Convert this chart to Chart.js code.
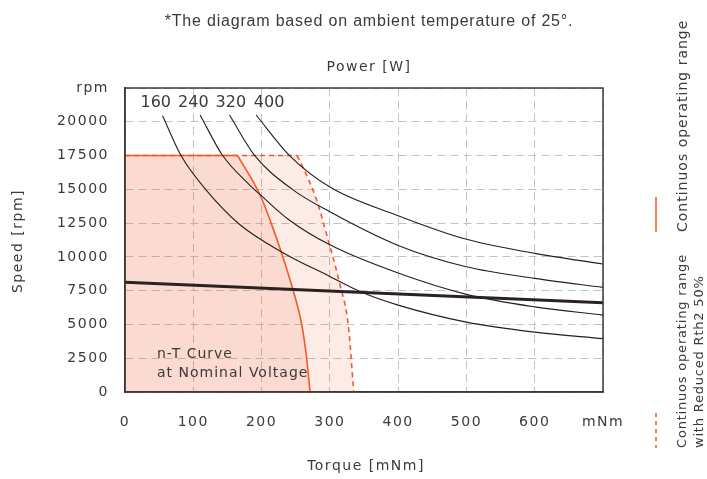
<!DOCTYPE html>
<html lang="en">
<head>
  <meta charset="UTF-8">
  <title>n-T diagram</title>
  <script src="https://cdn.jsdelivr.net/npm/chart.js"></script>
  <style>
    body { margin: 0; background: #fff; }
    canvas { display: block; }
  </style>
</head>
<body>
  <canvas id="grafico" width="707" height="479"></canvas>

  <script>
    // axis ticks
    const xTickValues = [0, 100, 200, 300, 400, 500, 600, 700];
    const xTickLabels = ['0', '100', '200', '300', '400', '500', '600', 'mNm'];
    const yTickValues = [0, 2500, 5000, 7500, 10000, 12500, 15000, 17500, 20000, 22500];
    const yTickLabels = ['0', '2500', '5000', '7500', '10000', '12500', '15000', '17500', '20000', 'rpm'];

    // power curves [W]
    const powerLabels = ['160', '240', '320', '400'];
    const p160Torque = [55, 82, 118, 168, 230, 300, 345, 400, 500, 600, 700];
    const p160Speed = [20450, 17500, 15000, 12400, 10350, 8550, 7420, 6430, 5170, 4430, 3950];
    const p240Torque = [110, 143, 183, 200, 240, 300, 400, 500, 600, 700];
    const p240Speed = [20500, 17500, 15300, 14510, 12750, 10890, 8800, 7225, 6300, 5690];
    const p320Torque = [153, 190, 245, 300, 400, 500, 600, 700];
    const p320Speed = [20500, 17500, 15000, 13340, 10850, 9270, 8410, 7745];
    const p400Torque = [192, 241, 300, 400, 500, 600, 700];
    const p400Speed = [20500, 17500, 15170, 13050, 11300, 10260, 9470];

    // n-T curve at nominal voltage
    const nomTorque = [0, 700];
    const nomSpeed = [8130, 6600];

    // continuous operating range
    const contTopTorque = [0, 165];
    const contTopSpeed = [17500, 17500];
    const contTorque = [165, 198, 214, 229, 244, 259, 266, 271];
    const contSpeed = [17500, 14560, 12500, 10320, 7900, 4950, 2500, 0];

    // continuous operating range, reduced Rth2 50%
    const redTopTorque = [0, 252];
    const redTopSpeed = [17500, 17500];
    const redTorque = [252, 260, 280, 294, 315, 327, 335];
    const redSpeed = [17500, 16700, 14300, 11900, 7900, 4950, 0];

    const laranja = '#f15a29';
    const texto = '#3a3a3a';
    const fonte = '"DejaVu Sans", sans-serif';

    function pontos(xs, ys) {
      return xs.map((x, i) => ({ x: x, y: ys[i] }));
    }

    function curva(xs, ys) {
      return {
        data: pontos(xs, ys),
        borderColor: '#231f20',
        borderWidth: 1.1,
        pointRadius: 0,
        fill: false,
        cubicInterpolationMode: 'monotone',
        order: 1
      };
    }

    const datasets = [
      { data: pontos(nomTorque, nomSpeed), borderColor: '#2b2220', borderWidth: 3, pointRadius: 0, fill: false, order: 0 },
      curva(p160Torque, p160Speed),
      curva(p240Torque, p240Speed),
      curva(p320Torque, p320Speed),
      curva(p400Torque, p400Speed),
      { data: pontos(contTopTorque, contTopSpeed), borderColor: laranja, borderWidth: 1.6, pointRadius: 0,
        fill: 'origin', backgroundColor: 'rgba(241,90,41,0.11)', order: 2 },
      { data: pontos(contTorque, contSpeed), borderColor: laranja, borderWidth: 1.6, pointRadius: 0,
        fill: 'origin', backgroundColor: 'rgba(241,90,41,0.11)', cubicInterpolationMode: 'monotone', order: 2 },
      { data: pontos(redTopTorque, redTopSpeed), borderColor: laranja, borderWidth: 1.6, borderDash: [5, 4], pointRadius: 0,
        fill: 'origin', backgroundColor: 'rgba(241,90,41,0.12)', order: 3 },
      { data: pontos(redTorque, redSpeed), borderColor: laranja, borderWidth: 1.6, borderDash: [5, 4], pointRadius: 0,
        fill: 'origin', backgroundColor: 'rgba(241,90,41,0.12)', cubicInterpolationMode: 'monotone', order: 3 }
    ];

    function textoRotacionado(ctx, txt, x, y, align) {
      ctx.save();
      ctx.translate(x, y);
      ctx.rotate(-Math.PI / 2);
      ctx.textAlign = align;
      ctx.textBaseline = 'middle';
      ctx.fillText(txt, 0, 0);
      ctx.restore();
    }

    const textos = {
      id: 'textos',
      beforeDraw(chart) {
        // fonte da referência é bem larga: espaçamento nas letras dos ticks
        chart.ctx.letterSpacing = '1.5px';
      },
      afterDraw(chart) {
        const ctx = chart.ctx;
        const a = chart.chartArea;
        const sx = chart.scales.x;
        const sy = chart.scales.y;
        ctx.save();

        // moldura
        ctx.strokeStyle = '#3a3a3a';
        ctx.lineWidth = 1.5;
        ctx.strokeRect(a.left, a.top, a.right - a.left, a.bottom - a.top);

        ctx.fillStyle = texto;
        ctx.textBaseline = 'middle';
        ctx.textAlign = 'center';
        ctx.letterSpacing = '0.8px';
        ctx.font = '16px "Liberation Sans", sans-serif';
        ctx.fillText('*The diagram based on ambient temperature of 25°.', 369, 22);

        ctx.letterSpacing = '1.5px';
        ctx.font = '14px ' + fonte;
        ctx.fillText('Power [W]', 369, 67);
        ctx.fillText('Torque [mNm]', 366, 466);
        textoRotacionado(ctx, 'Speed [rpm]', 18, 241, 'center');

        // rótulos das curvas de potência
        ctx.letterSpacing = '0px';
        ctx.font = '16px ' + fonte;
        const posLabel = [45, 100, 155, 211];
        powerLabels.forEach((l, i) => {
          ctx.fillText(l, sx.getPixelForValue(posLabel[i]), sy.getPixelForValue(21400));
        });

        ctx.letterSpacing = '1px';
        ctx.font = '14px ' + fonte;
        ctx.textAlign = 'left';
        ctx.fillText('n-T Curve', 157, 354);
        ctx.fillText('at Nominal Voltage', 157, 373);

        // legenda lateral
        textoRotacionado(ctx, 'Continuos operating range', 683, 232, 'left');
        ctx.letterSpacing = '0.8px';
        ctx.font = '13px ' + fonte;
        textoRotacionado(ctx, 'Continuos operating range', 683, 448, 'left');
        textoRotacionado(ctx, 'with Reduced Rth2 50%', 700, 448, 'left');

        ctx.strokeStyle = laranja;
        ctx.lineWidth = 1.5;
        ctx.beginPath();
        ctx.moveTo(656, 197);
        ctx.lineTo(656, 232);
        ctx.stroke();
        ctx.setLineDash([4, 4]);
        ctx.beginPath();
        ctx.moveTo(656, 413);
        ctx.lineTo(656, 448);
        ctx.stroke();

        ctx.restore();
      }
    };

    const ctx = document.getElementById('grafico').getContext('2d');
    new Chart(ctx, {
      type: 'line',
      data: { datasets: datasets },
      options: {
        responsive: false,
        animation: false,
        layout: { padding: { top: 88, right: 104, left: 0, bottom: 0 } },
        plugins: { legend: { display: false }, tooltip: { enabled: false } },
        scales: {
          x: {
            type: 'linear', min: 0, max: 700,
            afterBuildTicks: s => { s.ticks = xTickValues.map(v => ({ value: v })); },
            afterFit: s => { s.height = 87; },
            ticks: {
              autoSkip: false, maxRotation: 0, padding: 22, color: texto,
              font: { family: fonte, size: 14 },
              callback: (v, i) => xTickLabels[i]
            },
            grid: { color: '#c2c2c2', lineWidth: 1, drawTicks: false },
            border: { display: true, color: '#3a3a3a', width: 1.5, dash: [8, 5] }
          },
          y: {
            type: 'linear', min: 0, max: 22500,
            afterBuildTicks: s => { s.ticks = yTickValues.map(v => ({ value: v })); },
            afterFit: s => { s.width = 125; },
            ticks: {
              autoSkip: false, padding: 16, color: texto,
              font: { family: fonte, size: 14 },
              callback: (v, i) => yTickLabels[i]
            },
            grid: { color: '#c2c2c2', lineWidth: 1, drawTicks: false },
            border: { display: true, color: '#3a3a3a', width: 1.5, dash: [8, 5] }
          }
        }
      },
      plugins: [textos]
    });
  </script>
</body>
</html>
